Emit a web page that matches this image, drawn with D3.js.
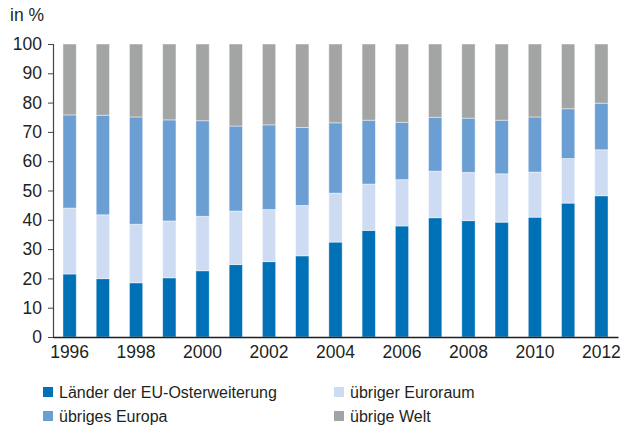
<!DOCTYPE html>
<html>
<head>
  <meta charset="UTF-8">
  <title>Exportanteile</title>
  <style>
    body { margin: 0; background: #fff; }
    svg { display: block; font-family: "Liberation Sans", Arial, sans-serif; }
    .axis text { font-size: 17.5px; fill: #231f20; }
  </style>
</head>
<body>
<svg></svg>
<script src="https://d3js.org/d3.v7.min.js"></script>
<script>

// data (shares in %)
const years = [1996, 1997, 1998, 1999, 2000, 2001, 2002, 2003, 2004, 2005, 2006, 2007, 2008, 2009, 2010, 2011, 2012];
const euOst   = [21.5, 19.9, 18.5, 20.2, 22.6, 24.7, 25.7, 27.7, 32.4, 36.4, 37.9, 40.7, 39.7, 39.2, 40.9, 45.7, 48.2];
const euroRaum = [22.5, 21.8, 20.0, 19.4, 18.6, 18.3, 17.8, 17.2, 16.7, 15.8, 15.8, 15.9, 16.5, 16.5, 15.4, 15.2, 15.7];
const europa  = [31.8, 34.0, 36.6, 34.5, 32.6, 29.0, 28.9, 26.6, 24.0, 21.8, 19.6, 18.4, 18.5, 18.3, 18.8, 17.0, 15.9];
const welt    = [24.2, 24.3, 24.9, 25.9, 26.2, 28.0, 27.6, 28.5, 26.9, 26.0, 26.7, 25.0, 25.3, 26.0, 24.9, 22.1, 20.2];
const seriesNames = ["Länder der EU-Osterweiterung", "übriger Euroraum", "übriges Europa", "übrige Welt"];
const yTicks = [0, 10, 20, 30, 40, 50, 60, 70, 80, 90, 100];

const colors = ["#0071b7", "#cedcf3", "#6b9fd3", "#a3a5a4"];

let width = 623, height = 425;
let svg = d3.select("svg").attr("width", width).attr("height", height);

let table = years.map((y, i) => ({year: y, s0: euOst[i], s1: euroRaum[i], s2: europa[i], s3: welt[i]}));
let stack = d3.stack().keys(["s0", "s1", "s2", "s3"])(table);

let x = d3.scaleBand().domain(years).range([53, 618]).paddingInner(0.6).paddingOuter(0.3);
let y = d3.scaleLinear().domain([0, 100]).range([337, 44]);

// bars
svg.append("g")
  .selectAll("g")
  .data(stack)
  .enter()
  .append("g")
    .attr("fill", (d, i) => colors[i])
  .selectAll("rect")
  .data(d => d)
  .enter()
  .append("rect")
    .attr("x", d => x(d.data.year))
    .attr("width", x.bandwidth())
    .attr("y", d => y(d[1]))
    .attr("height", d => y(d[0]) - y(d[1]))
    .attr("stroke", "rgba(255,255,255,0.55)")
    .attr("stroke-width", 0.8);

// y axis
let yAxis = svg.append("g")
  .attr("class", "axis")
  .attr("transform", "translate(53,0)")
  .call(d3.axisLeft(y).tickValues(yTicks).tickSize(5).tickPadding(6));
yAxis.select(".domain").attr("stroke", "#444").attr("stroke-width", 1.2);
yAxis.selectAll(".tick line").attr("stroke", "#444");

// x axis
let xAxis = svg.append("g")
  .attr("class", "axis")
  .attr("transform", "translate(0,337)")
  .call(d3.axisBottom(x).tickValues(years.filter(v => v % 2 == 0)).tickSize(0).tickPadding(9).tickSizeOuter(0));
xAxis.select(".domain").attr("stroke", "#231f20").attr("stroke-width", 1.5);

svg.append("text")
  .attr("x", 10).attr("y", 21)
  .style("font-size", "17.5px").attr("fill", "#231f20")
  .text("in %");

// legend
let legendPos = [[43, 392], [334, 392], [43, 416], [334, 416]];
let order = [0, 1, 2, 3];
let legend = svg.append("g")
  .selectAll("g")
  .data(order)
  .enter()
  .append("g")
    .attr("transform", d => "translate(" + legendPos[d][0] + "," + legendPos[d][1] + ")");
legend.append("rect")
  .attr("x", 0).attr("y", -5).attr("width", 10).attr("height", 10)
  .attr("fill", d => colors[d]);
legend.append("text")
  .attr("x", 16).attr("y", 0).attr("dy", "0.35em")
  .style("font-size", "16px").attr("fill", "#231f20")
  .text(d => seriesNames[d]);

</script>
</body>
</html>
